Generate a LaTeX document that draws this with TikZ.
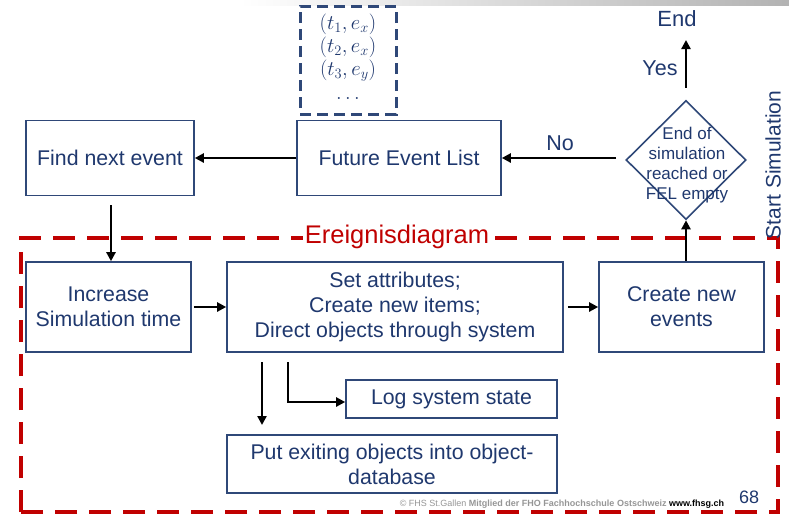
\documentclass[tikz,border=0pt]{standalone}
\usepackage{fontspec}
\setmainfont{Liberation Sans}
\usetikzlibrary{arrows.meta,shapes.geometric}
\definecolor{boxblue}{RGB}{47,72,120}
\definecolor{txtblue}{RGB}{31,56,110}
\definecolor{dred}{RGB}{192,0,0}
\definecolor{fgray}{RGB}{150,150,150}
\tikzset{
  box/.style={draw=boxblue,line width=1.6pt,fill=white,text=txtblue,align=center,inner sep=0pt,font=\fontsize{21.3}{25}\selectfont},
  arr/.style={line width=2.4pt,-{Triangle[length=9pt,width=9pt]}},
  lbl/.style={text=txtblue,font=\fontsize{21.5}{25}\selectfont},
}
\begin{document}
\begin{tikzpicture}[x=1pt,y=-1pt]
\useasboundingbox (0,0) rectangle (789,520);
% top strip
\shade[left color=white,right color=gray!60] (240,0) rectangle (789,5);
% red dashed region
\draw[dred,line width=4.5pt,dash pattern=on 22pt off 12pt] (21,512) -- (21,238) -- (778,238) -- (778,512) -- cycle;
\node[fill=white,text=dred,font=\fontsize{25.5}{29}\selectfont,inner sep=2pt] (ed) at (397,237) {Ereignisdiagram};
% FEL list
\node[draw=boxblue,line width=3pt,dash pattern=on 11pt off 6pt,minimum width=96pt,minimum height=108pt,inner sep=0pt] (list) at (348,60) {};
\node[text=txtblue,font=\fontsize{20}{23}\selectfont,align=center] (lt) at (348,57) {$(t_1,e_x)$\\$(t_2,e_x)$\\$(t_3,e_y)$\\[1pt]$\dots$};
% boxes
\node[box,minimum width=168pt,minimum height=75pt] (find) at (110,158) {Find next event};
\node[box,minimum width=204pt,minimum height=75pt] (fel) at (399,158) {Future Event List};
\node[draw=boxblue,line width=1.6pt,diamond,aspect=1,minimum width=120pt,minimum height=119pt,inner sep=0pt] (dia) at (686,160) {};
\node[text=txtblue,align=center,font=\fontsize{17}{20}\selectfont] (diat) at (687,165) {End of\\simulation\\reached or\\FEL empty};
\node[lbl,font=\fontsize{22}{25}\selectfont] (end) at (677,19) {End};
\node[lbl] (yes) at (660,68) {Yes};
\node[lbl] (no) at (560,143) {No};
\coordinate (endp) at (686,40);
\node[box,minimum width=165pt,minimum height=90pt] (inc) at (108.5,307) {Increase\\Simulation time};
\node[box,minimum width=336pt,minimum height=90pt] (set) at (395,307) {Set attributes;\\Create new items;\\Direct objects through system};
\node[box,minimum width=165pt,minimum height=90pt] (cne) at (681.5,307) {Create new\\events};
\node[box,minimum width=211pt,minimum height=38pt] (log) at (451.5,399) {Log system state};
\node[box,minimum width=330pt,minimum height=58pt] (put) at (392,464) {Put exiting objects into object-\\database};
% arrows
\draw[arr] (dia.north) ++(0,-12) -- (endp);
\draw[arr] (616,158) -- (fel.east);
\draw[arr] (fel.west) -- (find.east);
\draw[arr] (111,205) -- (inc.north -| 111,0);
\draw[arr] (inc.east) ++(2,0) -- (set.west);
\draw[arr] (set.east) ++(4,0) -- (cne.west);
\draw[arr] (cne.north -| dia.south) -- (dia.south);
\draw[arr] (262,362) -- (262,425);
\draw[arr] (288,362) -- (288,402) -- (log.west |- 0,402);
% side text
\node[rotate=90,text=txtblue,font=\fontsize{21}{24}\selectfont] (ss) at (773,165) {Start Simulation};
% footer
\node[fill=white,text=fgray,font=\fontsize{9}{11}\selectfont,inner sep=1pt] (foot) at (562,504) {\copyright{} FHS St.Gallen \textbf{Mitglied der FHO Fachhochschule Ostschweiz} \textcolor{black}{\textbf{www.fhsg.ch}}};
\node[text=txtblue,font=\fontsize{18}{20}\selectfont] (pg) at (749,497) {68};
\end{tikzpicture}
\end{document}
